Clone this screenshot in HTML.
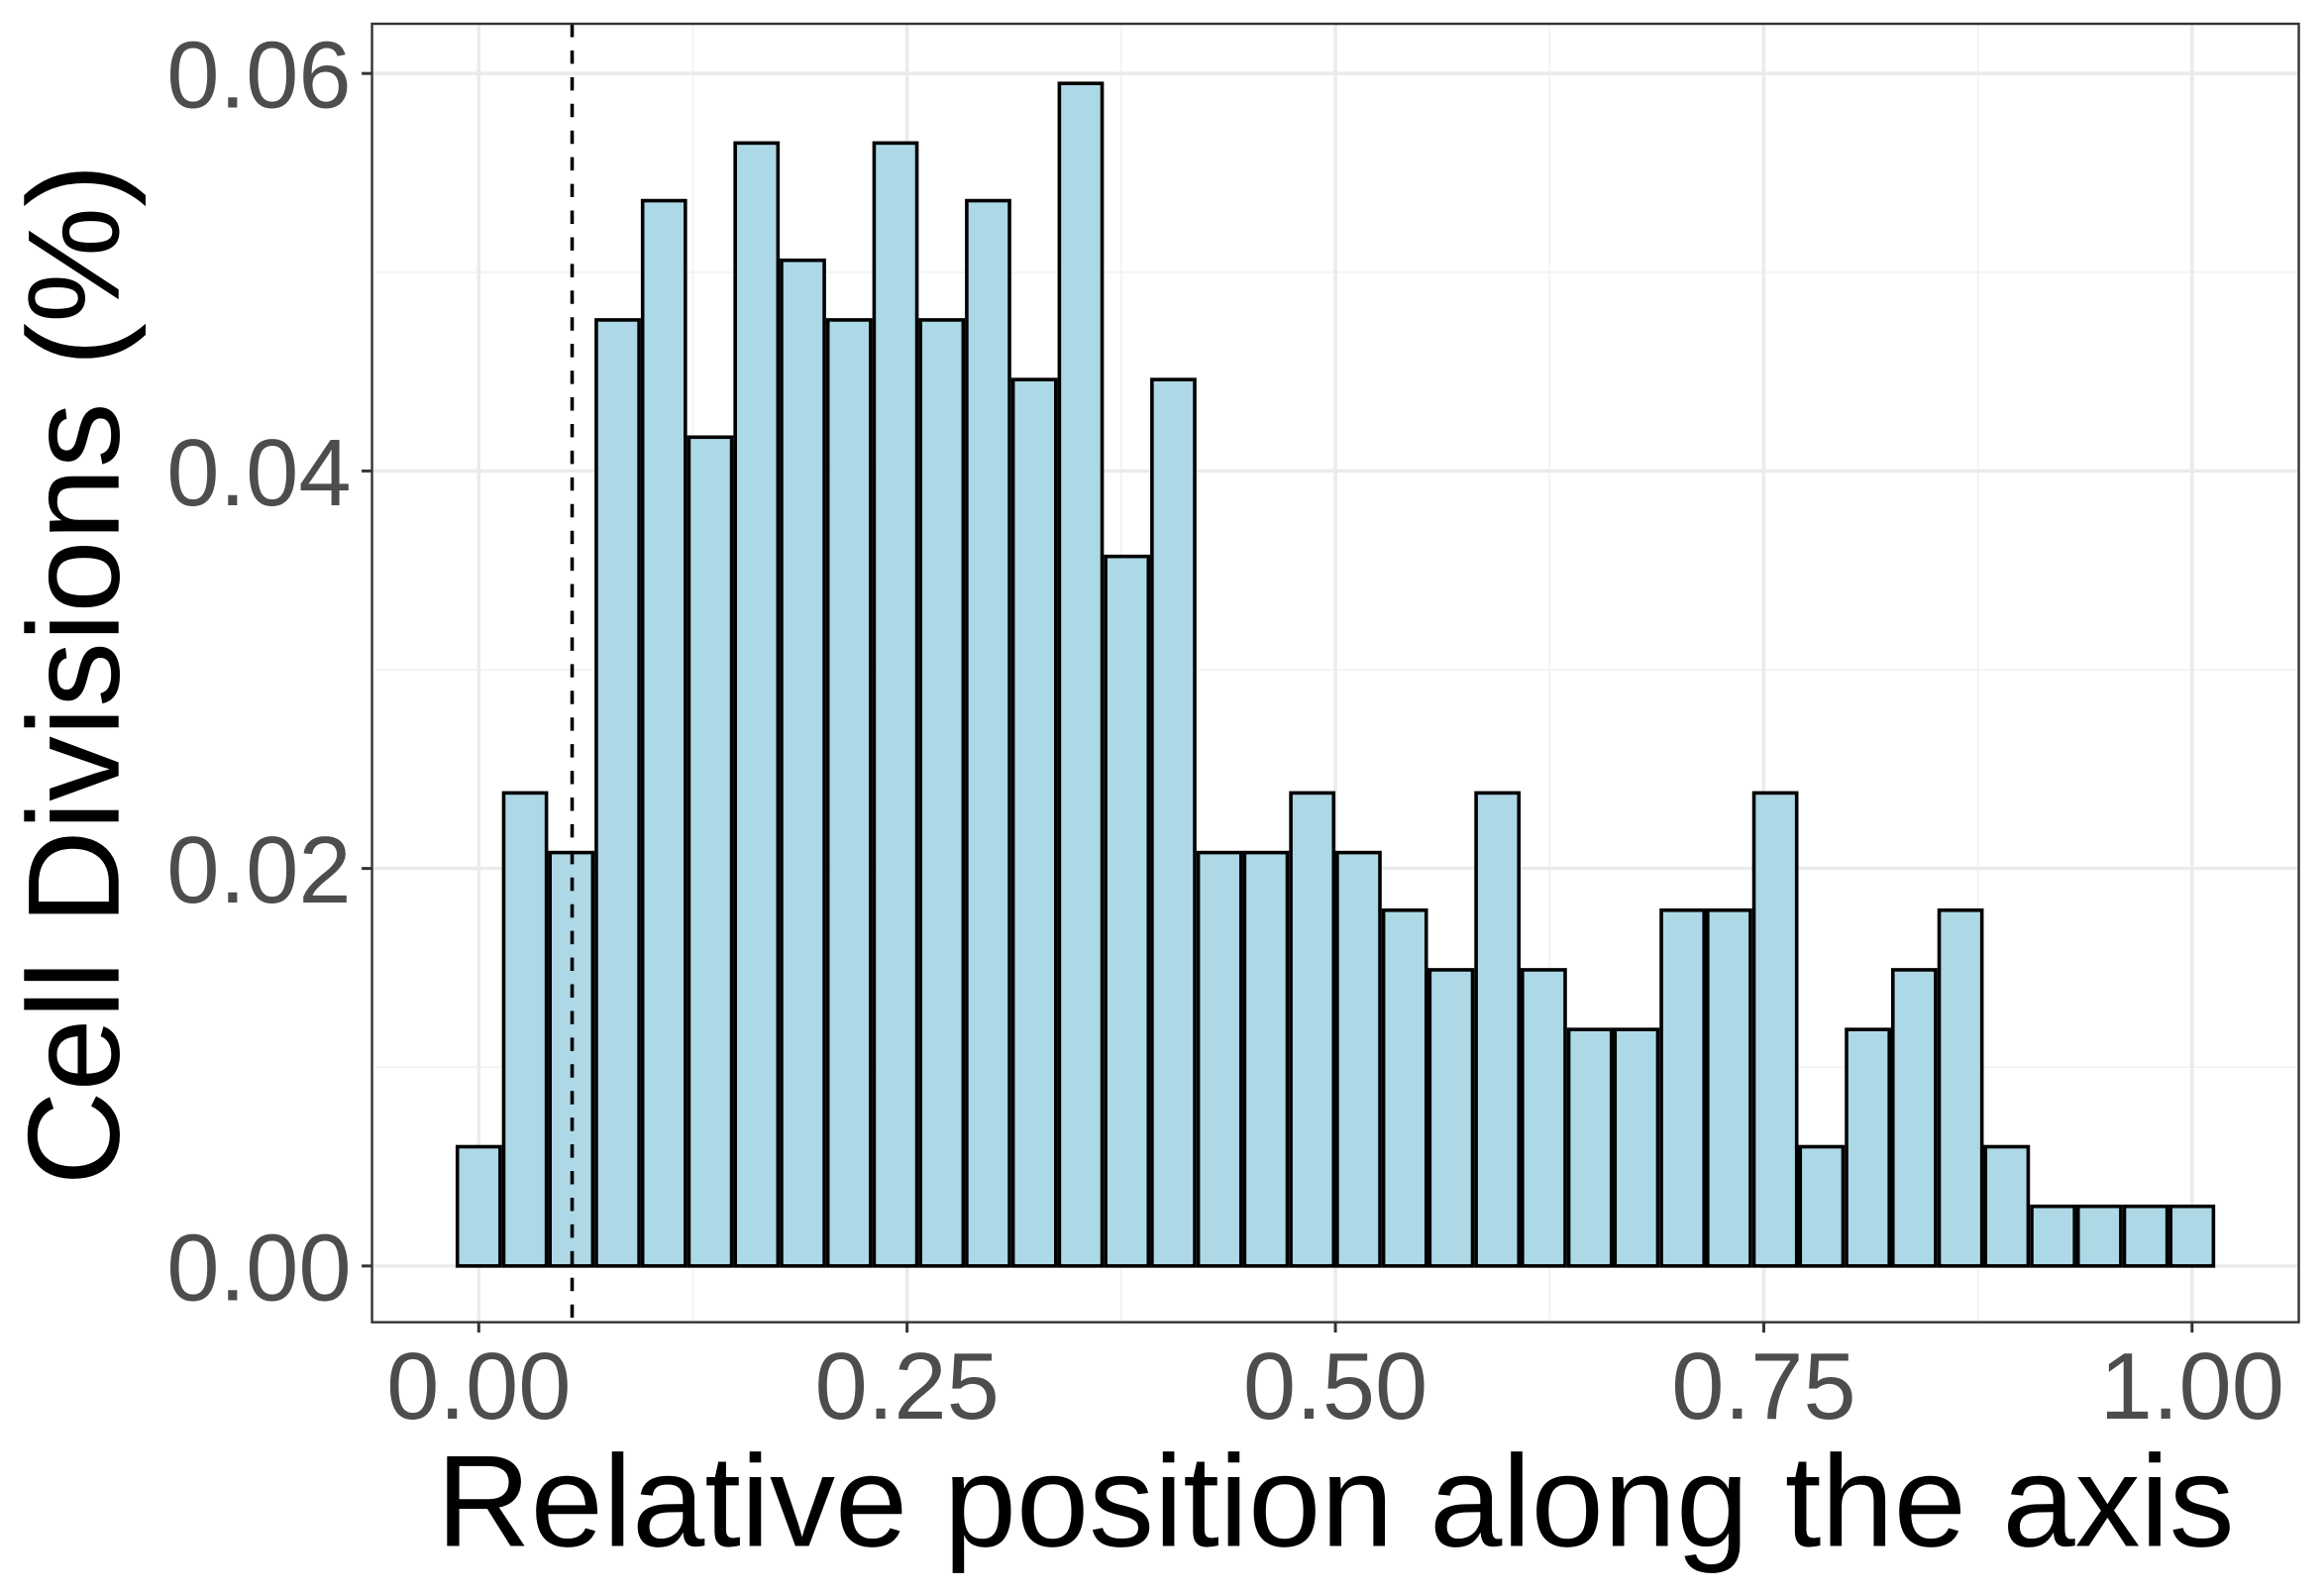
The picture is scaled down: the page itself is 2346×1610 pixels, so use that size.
<!DOCTYPE html>
<html><head><meta charset="utf-8"><style>html,body{margin:0;padding:0;background:#fff}svg{display:block}</style></head>
<body>
<svg id="chart" width="2346" height="1610" viewBox="0 0 1568 1076" xmlns="http://www.w3.org/2000/svg" font-family="'Liberation Sans', sans-serif">
<g id="grid"></g>
<g id="bars"></g>
<g id="axes"></g>
<text x="901" y="1043" font-size="88" text-anchor="middle" fill="#000">Relative position along the axis</text>
<text transform="translate(80,455) rotate(-90)" font-size="88" text-anchor="middle" fill="#000">Cell Divisions (%)</text>
</svg>
<script>
const binValues = [0.006,0.0238,0.0208,0.0476,0.0536,0.0417,0.0565,0.0506,0.0476,0.0565,0.0476,0.0536,0.0446,0.0595,0.0357,0.0446,0.0208,0.0208,0.0238,0.0208,0.0179,0.0149,0.0238,0.0149,0.0119,0.0119,0.0179,0.0179,0.0238,0.006,0.0119,0.0149,0.0179,0.006,0.003,0.003,0.003,0.003];
const yTicks = [0, 0.02, 0.04, 0.06];
const yTickLabels = ["0.00","0.02","0.04","0.06"];
const xTicks = [0, 0.25, 0.5, 0.75, 1];
const xTickLabels = ["0.00","0.25","0.50","0.75","1.00"];
const cutoff = 0.0545;

const NS = "http://www.w3.org/2000/svg";
const L = 251, R = 1551, T = 16, B = 892;
const xMin = -0.0623, xMax = 1.0623, yMin = -0.00283, yMax = 0.0625;
const sx = v => L + (v - xMin) / (xMax - xMin) * (R - L);
const sy = v => B - (v - yMin) / (yMax - yMin) * (B - T);
function mk(tag, attrs, parent) { const e = document.createElementNS(NS, tag); for (const k in attrs) e.setAttribute(k, attrs[k]); parent.appendChild(e); return e; }
const grid = document.getElementById('grid'), bars = document.getElementById('bars'), axes = document.getElementById('axes');
mk('rect', {x:L,y:T,width:R-L,height:B-T,fill:'#fff'}, grid);
for (let i = 0; i < yTicks.length - 1; i++) {
  const v = (yTicks[i] + yTicks[i+1]) / 2;
  const g = mk('line', {x1:L,x2:R,y1:sy(v),y2:sy(v),stroke:'#f2f2f2','stroke-width':1.2}, grid);
  
  
}
for (let i = 0; i < xTicks.length - 1; i++) {
  const v = (xTicks[i] + xTicks[i+1]) / 2;
  const g = mk('line', {y1:T,y2:B,x1:sx(v),x2:sx(v),stroke:'#f2f2f2','stroke-width':1.2}, grid);
  
  
}
yTicks.forEach((v, i) => {
  const g = mk('line', {x1:L,x2:R,y1:sy(v),y2:sy(v),stroke:'#ebebeb','stroke-width':2.4}, grid);
  
  
  const t = mk('line', {x1:L-7,x2:L,y1:sy(v),y2:sy(v),stroke:'#333','stroke-width':2}, axes);
  
  
  const lb = mk('text', {x:L-14,y:sy(v)+23,'font-size':64,'text-anchor':'end',fill:'#4d4d4d'}, axes);
  lb.textContent = yTickLabels[i];
  
  
});
xTicks.forEach((v, i) => {
  const g = mk('line', {y1:T,y2:B,x1:sx(v),x2:sx(v),stroke:'#ebebeb','stroke-width':2.4}, grid);
  
  
  const t = mk('line', {y1:B,y2:B+7,x1:sx(v),x2:sx(v),stroke:'#333','stroke-width':2}, axes);
  
  
  const lb = mk('text', {x:sx(v),y:957,'font-size':64,'text-anchor':'middle',fill:'#4d4d4d'}, axes);
  lb.textContent = xTickLabels[i];
  
  
});
const n = binValues.length, bw = 1 / (n - 1);
binValues.forEach((v, i) => {
  const c = i * bw;
  const x0 = sx(c - bw/2) + 1.2, x1 = sx(c + bw/2) - 1.2;
  const r = mk('rect', {x:x0,y:sy(v),width:x1-x0,height:sy(0)-sy(v),fill:'#add8e6',stroke:'#000','stroke-width':2.4}, bars);
  
  
});
const d = mk('line', {x1:sx(cutoff),x2:sx(cutoff),y1:T,y2:B,stroke:'#000','stroke-width':2.4,'stroke-dasharray':'9,9'}, bars);


const f = mk('rect', {x:L,y:T,width:R-L,height:B-T,fill:'none',stroke:'#333','stroke-width':1.6}, axes);


</script>
</body></html>
